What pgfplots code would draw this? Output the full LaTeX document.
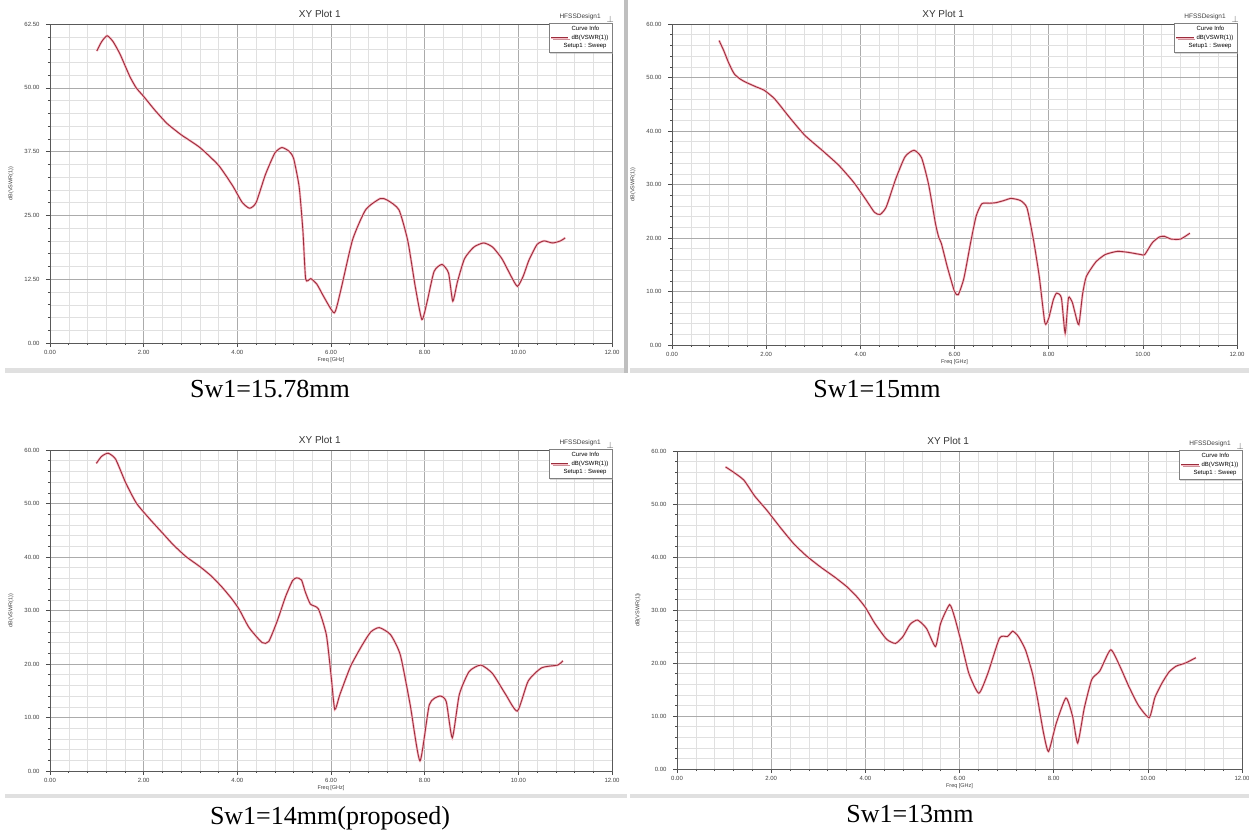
\documentclass[border=0pt]{standalone}
\usepackage{fontspec}
\setmainfont{Liberation Sans}
\newfontfamily\capfont{Liberation Serif}
\usepackage{pgfplots}
\pgfplotsset{compat=1.18}

\definecolor{vswr}{RGB}{155,45,60}
\definecolor{halo}{RGB}{248,185,195}

\pgfplotsset{
  hfss/.style={
    scale only axis, anchor=north west, clip mode=individual,
    xmin=0, xmax=12, ymin=0,
    xtick distance=2, minor x tick num=4, minor y tick num=4,
    grid=both,
    major grid style={black!33, line width=0.5pt},
    minor grid style={black!12, line width=0.4pt},
    axis line style={black!65, line width=0.7pt},
    tick pos=left, tick align=outside,
    major tick length=4pt, minor tick length=2pt,
    tick style={black!70, line width=0.5pt},
    ticklabel style={font=\fontsize{6}{7}\selectfont, text=black!75},
    yticklabel style={xshift=-3pt},
    /pgf/number format/fixed, /pgf/number format/fixed zerofill,
    /pgf/number format/precision=2, /pgf/number format/assume math mode=true,
    xlabel={Freq [GHz]}, ylabel={dB(VSWR(1))},
    label style={font=\fontsize{5.5}{6}\selectfont, text=black!75},
    xlabel style={yshift=4pt},
    ylabel style={yshift=4pt},
    title={XY Plot 1},
    title style={font=\fontsize{10}{11}\selectfont, text=black!80, at={(0.48,1)}, yshift=-3pt},
    legend style={at={(1,1.004)}, anchor=north east, font=\fontsize{6}{6.5}\selectfont,
      draw=black!50, fill=white, inner sep=1.5pt, row sep=-1.5pt,
      drop shadow={shadow xshift=1.5pt, shadow yshift=-1.5pt, fill=black!30}},
    legend cell align=left,
  },
  curve/.style={vswr, line width=0.9pt, smooth, tension=0.35,
    preaction={draw=halo, line width=2.3pt}},
}
\usetikzlibrary{shadows}
\tikzset{design/.style={anchor=south east, font=\fontsize{6.5}{7}\selectfont, text=black!75, inner sep=1pt}}
\newcommand{\capt}[1]{{\capfont\fontsize{26}{28}\selectfont #1}}
\newcommand{\hfsstag}{%
  \node[design] at (rel axis cs:0.982,1.008) {HFSSDesign1};
  \node[anchor=south, inner sep=0.5pt, text=black!70, font=\fontsize{9}{9}\selectfont]
    at (rel axis cs:0.997,1.004) {$\perp$};}

\begin{document}
\begin{tikzpicture}
\path[use as bounding box] (0pt,0pt) rectangle (1249pt,830pt);
% window frames
\fill[black!12] (5pt,457pt) rectangle (627pt,462pt);
\fill[black!12] (630pt,457pt) rectangle (1249pt,462pt);
\fill[black!25] (624pt,457pt) rectangle (628pt,830pt);
\fill[black!12] (5pt,32pt) rectangle (627pt,36pt);
\fill[black!12] (630pt,32pt) rectangle (1249pt,36pt);

% ---- Sw1 = 15.78 mm
\begin{axis}[hfss, at={(50pt,806pt)}, width=562pt, height=319pt,
  ymax=62.5, ytick distance=12.5]
\addlegendimage{empty legend}\addlegendentry{\hspace{-6pt}\quad Curve Info}
\addplot[curve] coordinates {
(1.00,57.2) (1.10,59.0) (1.22,60.2) (1.35,59.0) (1.50,56.5) (1.70,52.3)
(1.84,50.0) (2.00,48.3) (2.25,45.5) (2.50,43.0) (2.80,40.8) (3.20,38.3)
(3.60,34.8) (3.90,30.8) (4.10,27.6) (4.26,26.4) (4.40,27.5) (4.60,33.0)
(4.80,37.2) (4.95,38.3) (5.10,37.6) (5.20,36.2) (5.32,30.6) (5.40,22.0)
(5.46,12.5) (5.57,12.6) (5.70,11.5) (5.85,9.0) (6.07,5.9) (6.20,10.0)
(6.46,20.2) (6.74,26.1) (7.05,28.3) (7.20,28.0) (7.45,26.1) (7.64,20.0)
(7.80,11.0) (7.94,4.6) (8.05,8.0) (8.20,14.0) (8.37,15.4) (8.51,13.7)
(8.60,8.2) (8.70,12.0) (8.85,16.5) (9.05,18.8) (9.26,19.6) (9.45,18.8)
(9.65,16.5) (9.85,13.0) (9.98,11.1) (10.10,13.0) (10.23,16.3) (10.40,19.3)
(10.55,20.0) (10.73,19.6) (10.90,20.0) (11.00,20.6)};
\addlegendentry{dB(VSWR(1))}
\addlegendimage{empty legend}\addlegendentry{\hspace{-8pt}Setup1 : Sweep}
\hfsstag
\end{axis}

% ---- Sw1 = 15 mm
\begin{axis}[hfss, at={(672pt,806pt)}, width=565pt, height=321pt,
  ymax=60, ytick distance=10]
\addlegendimage{empty legend}\addlegendentry{\hspace{-6pt}\quad Curve Info}
\addplot[curve] coordinates {
(1.00,56.9) (1.10,55.0) (1.20,52.8) (1.32,50.7) (1.45,49.7) (1.57,49.1)
(1.80,48.2) (1.96,47.6) (2.18,46.0) (2.50,42.5) (2.82,39.2) (3.20,36.3)
(3.54,33.6) (3.85,30.5) (4.10,27.4) (4.30,24.8) (4.42,24.4) (4.55,25.8)
(4.75,31.0) (4.95,35.2) (5.14,36.4) (5.30,35.0) (5.45,30.0) (5.60,22.5)
(5.67,20.0) (5.72,19.0) (5.85,14.5) (6.00,10.0) (6.08,9.4) (6.20,12.5)
(6.35,19.5) (6.46,24.1) (6.58,26.4) (6.75,26.5) (6.88,26.6) (7.05,27.0)
(7.20,27.4) (7.40,27.0) (7.54,25.6) (7.68,19.5) (7.80,12.8) (7.92,4.1)
(8.00,5.0) (8.10,8.5) (8.17,9.7) (8.27,8.8) (8.35,2.2) (8.42,8.8)
(8.50,8.0) (8.56,6.0) (8.64,3.8) (8.72,9.5) (8.80,12.8) (9.00,15.5)
(9.20,16.9) (9.46,17.5) (9.70,17.3) (9.96,16.9) (10.04,16.9) (10.20,19.1)
(10.35,20.2) (10.46,20.3) (10.60,19.8) (10.80,19.8) (11.00,20.9)};
\addlegendentry{dB(VSWR(1))}
\addlegendimage{empty legend}\addlegendentry{\hspace{-8pt}Setup1 : Sweep}
\hfsstag
\end{axis}

% ---- Sw1 = 14 mm (proposed)
\begin{axis}[hfss, at={(50pt,380pt)}, width=562pt, height=321pt,
  ymax=60, ytick distance=10]
\addlegendimage{empty legend}\addlegendentry{\hspace{-6pt}\quad Curve Info}
\addplot[curve] coordinates {
(0.99,57.5) (1.10,58.8) (1.24,59.4) (1.40,58.3) (1.62,53.8) (1.85,50.0)
(2.15,46.9) (2.40,44.5) (2.63,42.3) (2.90,40.1) (3.20,38.2) (3.45,36.4)
(3.68,34.3) (3.88,32.2) (4.04,30.2) (4.25,26.8) (4.53,24.0) (4.67,24.2)
(4.85,28.0) (5.03,32.6) (5.18,35.6) (5.27,36.1) (5.37,35.7) (5.45,33.5)
(5.56,31.2) (5.73,30.3) (5.90,25.5) (6.00,18.0) (6.08,11.5) (6.19,14.3)
(6.42,19.6) (6.67,23.6) (6.85,26.0) (7.03,26.8) (7.27,25.5) (7.48,21.7)
(7.69,12.4) (7.90,1.9) (8.10,12.4) (8.32,14.0) (8.46,13.0) (8.59,6.2)
(8.74,14.3) (8.95,18.6) (9.20,19.8) (9.45,18.2) (9.73,14.3) (9.98,11.2)
(10.21,16.8) (10.50,19.3) (10.84,19.8) (10.95,20.6)};
\addlegendentry{dB(VSWR(1))}
\addlegendimage{empty legend}\addlegendentry{\hspace{-8pt}Setup1 : Sweep}
\hfsstag
\end{axis}

% ---- Sw1 = 13 mm
\begin{axis}[hfss, at={(677pt,379pt)}, width=565pt, height=318pt,
  ymax=60, ytick distance=10]
\addlegendimage{empty legend}\addlegendentry{\hspace{-6pt}\quad Curve Info}
\addplot[curve] coordinates {
(1.03,57.0) (1.20,56.0) (1.42,54.5) (1.65,51.5) (1.91,48.8) (2.20,45.5)
(2.48,42.5) (2.75,40.2) (3.05,38.1) (3.35,36.2) (3.62,34.3) (3.82,32.5)
(4.00,30.5) (4.20,27.5) (4.45,24.5) (4.64,23.7) (4.80,25.0) (4.95,27.3)
(5.11,28.1) (5.30,26.5) (5.49,23.1) (5.60,27.5) (5.79,31.0) (5.90,28.5)
(6.04,23.8) (6.20,18.0) (6.41,14.3) (6.60,18.0) (6.85,24.7) (7.02,25.0)
(7.13,26.0) (7.25,25.0) (7.40,22.5) (7.55,18.0) (7.66,13.1) (7.78,7.0)
(7.89,3.3) (8.05,8.5) (8.26,13.4) (8.40,10.0) (8.51,4.9) (8.65,11.5)
(8.81,16.9) (8.98,18.5) (9.21,22.5) (9.40,19.5) (9.60,15.5) (9.80,12.0)
(10.03,9.7) (10.15,13.5) (10.30,16.2) (10.45,18.3) (10.60,19.4) (10.80,20.0)
(11.02,21.0)};
\addlegendentry{dB(VSWR(1))}
\addlegendimage{empty legend}\addlegendentry{\hspace{-8pt}Setup1 : Sweep}
\hfsstag
\end{axis}

% captions
\node[anchor=base] at (270pt,432pt) {\capt{Sw1=15.78mm}};
\node[anchor=base] at (877pt,432pt) {\capt{Sw1=15mm}};
\node[anchor=base] at (330pt,6pt) {\capt{Sw1=14mm(proposed)}};
\node[anchor=base] at (910pt,8pt) {\capt{Sw1=13mm}};
\end{tikzpicture}
\end{document}
